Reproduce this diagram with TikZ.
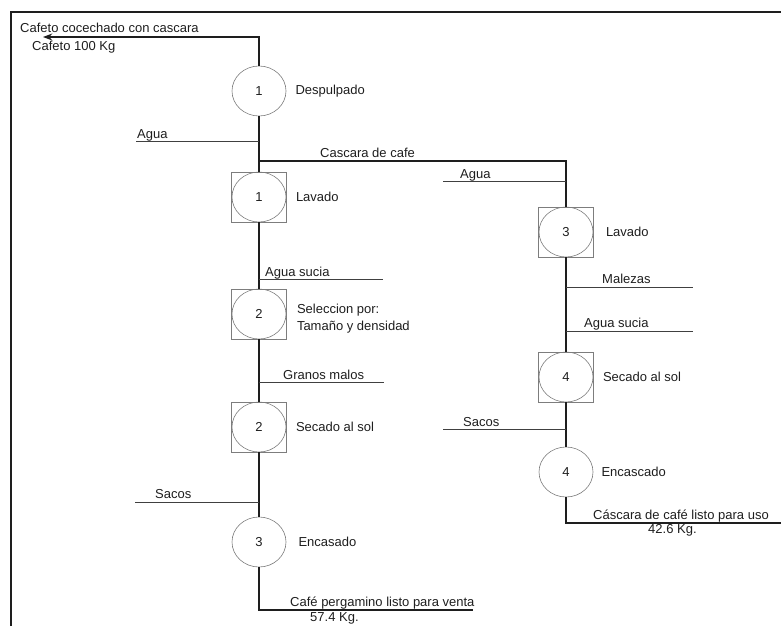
\documentclass[tikz,border=0pt]{standalone}
\usepackage{fontspec}
\setmainfont{Liberation Sans}
\usetikzlibrary{arrows.meta,positioning,shapes.geometric}
\definecolor{ink}{RGB}{30,30,30}
\definecolor{rim}{RGB}{125,125,125}

\begin{document}
\begin{tikzpicture}[x=1pt,y=-1pt,>=Stealth,font=\fontsize{13}{17}\selectfont]
\tikzset{proc/.style={ellipse,draw=rim,line width=0.6pt,minimum width=54pt,minimum height=50pt,inner sep=0pt,text=ink},
  tank/.style={rectangle,draw=rim,line width=0.6pt,minimum width=55pt,minimum height=50pt,inner sep=0pt},
  flow/.style={draw=ink,line width=1.4pt},feed/.style={draw=ink!85,line width=0.9pt},
  lab/.style={text=ink,inner sep=0pt},tag/.style={lab,anchor=base west}}
\useasboundingbox (0,0) rectangle (781,626);
\draw[line width=1.8pt,draw=ink] (11,626) -- (11,12) -- (781,12);
% left column
\node[proc] (d1) at (259,91) {1};\node[lab,right=9pt of d1] (d1t) {Despulpado};
\node[tank] (t1) at (259,197) {};\node[proc] (l1) at (259,197) {1};\node[lab,right=9pt of t1] (l1t) {Lavado};
\node[tank] (t2) at (259,314) {};\node[proc] (s2) at (259,314) {2};
\node[lab,right=10pt of t2,align=left,yshift=-5pt] (s2t) {Seleccion por:\\Tamaño y densidad};
\node[tank] (t3) at (259,427) {};\node[proc] (g2) at (259,427) {2};\node[lab,right=9pt of t3] (g2t) {Secado al sol};
\node[proc] (e3) at (259,542) {3};\node[lab,right=12pt of e3] (e3t) {Encasado};
% right column
\node[tank] (t4) at (566,232) {};\node[proc] (l3) at (566,232) {3};\node[lab,right=12pt of t4] (l3t) {Lavado};
\node[tank] (t5) at (566,377) {};\node[proc] (g4) at (566,377) {4};\node[lab,right=9pt of t5] (g4t) {Secado al sol};
\node[proc] (e4) at (566,472) {4};\node[lab,right=8pt of e4] (e4t) {Encascado};
% main flow
\coordinate (cTop) at (259,37);\coordinate (cIn) at (43,37);
\draw[flow,->] (d1) -- (cTop) -- (cIn);
\node[tag] (inA) at (20,33) {Cafeto cocechado con cascara};\node[tag] (inB) at (32,51) {Cafeto 100 Kg};
\draw[flow] (d1) -- (t1);\draw[flow] (t1) -- (t2);\draw[flow] (t2) -- (t3);\draw[flow] (t3) -- (e3);
\coordinate (cEnd1) at (259,610);\coordinate (cOut1) at (473,610);
\draw[flow] (e3) -- (cEnd1) -- (cOut1);
\node[tag] (outA) at (290,606) {Café pergamino listo para venta};\node[tag] (outB) at (310,621) {57.4 Kg.};
\coordinate (cSplit) at (259,161);\coordinate (cTurn) at (566,161);
\draw[flow] (cSplit) -- (cTurn) -- (t4);
\node[tag] (cas) at (320,157) {Cascara de cafe};
\draw[flow] (t4) -- (t5);\draw[flow] (t5) -- (e4);
\coordinate (cEnd2) at (566,523);\coordinate (cOut2) at (781,523);
\draw[flow] (e4) -- (cEnd2) -- (cOut2);
\node[tag] (outC) at (593,519) {Cáscara de café listo para uso};\node[tag] (outD) at (648,533) {42.6 Kg.};
% side streams
\coordinate (w1) at (136,141);\draw[feed] (w1) -- (w1 -| d1);\node[tag] (w1t) at (137,138) {Agua};
\coordinate (w2) at (383,279);\draw[feed] (w2 -| t1) -- (w2);\node[tag] (w2t) at (265,276) {Agua sucia};
\coordinate (w3) at (384,382);\draw[feed] (w3 -| t2) -- (w3);\node[tag] (w3t) at (283,379) {Granos malos};
\coordinate (w4) at (135,502);\draw[feed] (w4) -- (w4 -| e3);\node[tag] (w4t) at (155,498) {Sacos};
\coordinate (w5) at (443,181);\draw[feed] (w5) -- (w5 -| t4);\node[tag] (w5t) at (460,178) {Agua};
\coordinate (w6) at (693,287);\draw[feed] (w6 -| t4) -- (w6);\node[tag] (w6t) at (602,283) {Malezas};
\coordinate (w7) at (693,331);\draw[feed] (w7 -| t4) -- (w7);\node[tag] (w7t) at (584,327) {Agua sucia};
\coordinate (w8) at (443,429);\draw[feed] (w8) -- (w8 -| e4);\node[tag] (w8t) at (463,426) {Sacos};
\end{tikzpicture}
\end{document}
